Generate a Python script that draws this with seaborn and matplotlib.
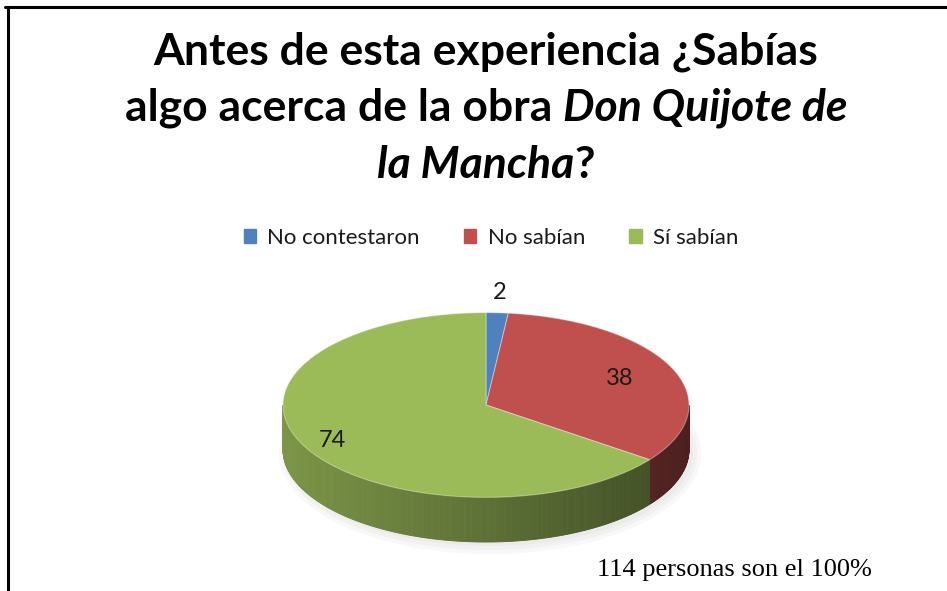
import numpy as np
import matplotlib.pyplot as plt
import matplotlib.patches as mpatches
from matplotlib.lines import Line2D
import seaborn as sns

# data
categories = ["No contestaron", "No sabían", "Sí sabían"]
values = [2, 38, 74]
label_radius = [1.22, 0.72, 0.85]
title_lines = [
    [("Antes de esta experiencia ¿Sabías", "normal")],
    [("algo acerca de la obra", "normal"), ("Don Quijote de", "italic")],
    [("la Mancha", "italic"), ("?", "normal")],
]
note = "114 personas son el 100%"

sns.set_theme(style="white")
plt.rcParams['font.family'] = ['Lato', 'DejaVu Sans']
palette = ["#4F81BD", "#C0504D", "#9BBB59"]

W, H = 947, 591
fig = plt.figure(figsize=(W / 100, H / 100), dpi=100)
fig.patch.set_facecolor("white")

# pie in pixel-like units: centre at (486, 405), radius 203 px
cx, cy, R = 486, 405, 203
ax = fig.add_axes([0, 0, 1, 1])
ax.set_xlim(-cx / R, (W - cx) / R)
ax.set_ylim((cy - H) / R, cy / R)
ax.axis("off")

k = 0.455      # tilt (vertical squash)
depth = 0.22   # side height

total = sum(values)
angles = []
start = 90.0
for v in values:
    end = start - v / total * 360
    angles.append((start, end))
    start = end

def rgb_scale(c, f):
    r, g, b = plt.matplotlib.colors.to_rgb(c)
    return (r * f, g * f, b * f)

# soft shadow below pie
for i, a in enumerate([0.05, 0.05, 0.05]):
    sh = mpatches.Ellipse((0.02, -depth - 0.02), 2.0 + 0.04 * i, 2 * k + 0.04 * i,
                          color="grey", alpha=a, lw=0)
    ax.add_patch(sh)

# side walls (front half only)
for (a0, a1), c in zip(angles, palette):
    lo, hi = max(min(a0, a1), -180), min(max(a0, a1), 0)
    if hi <= lo:
        continue
    ts = np.linspace(lo, hi, int((hi - lo) * 2) + 2)
    for t0, t1 in zip(ts[:-1], ts[1:]):
        tm = np.radians((t0 + t1) / 2)
        f = 0.6 - 0.2 * np.cos(tm)
        col = rgb_scale(c, f)
        r0, r1 = np.radians(t0), np.radians(t1)
        xs = [np.cos(r0), np.cos(r1), np.cos(r1), np.cos(r0)]
        ys = [k * np.sin(r0), k * np.sin(r1), k * np.sin(r1) - depth, k * np.sin(r0) - depth]
        ax.fill(xs, ys, color=col, lw=0.6, ec=col)

# top faces
for (a0, a1), c in zip(angles, palette):
    t = np.radians(np.linspace(a0, a1, 200))
    xs = np.concatenate([[0], np.cos(t)])
    ys = np.concatenate([[0], k * np.sin(t)])
    ax.fill(xs, ys, color=c, lw=0.8, ec=(1, 1, 1, 0.35))

# data labels
for (a0, a1), v, rl in zip(angles, values, label_radius):
    tm = np.radians((a0 + a1) / 2)
    ax.text(rl * np.cos(tm), k * rl * np.sin(tm), str(v), ha="center", va="center",
            fontsize=17, color="#1a1a1a")

# title with italic part
renderer = fig.canvas.get_renderer()
title_size = 32
title_base = [64, 121, 178]
def width_of(s, style):
    t = fig.text(0, 0, s, fontsize=title_size, fontweight="bold", style=style)
    w = t.get_window_extent(renderer).width
    t.remove()
    return w
gap = width_of("a a", "normal") - width_of("aa", "normal")
for line, yb in zip(title_lines, title_base):
    widths = [width_of(s, st) for s, st in line]
    total_w = sum(widths) + gap * (len(line) - 1)
    if line[-1][0] == "?":
        total_w -= gap
    x = 486 - total_w / 2
    for (s, st), w in zip(line, widths):
        if s == "?":
            x -= gap
        fig.text(x / W, 1 - yb / H, s, fontsize=title_size, fontweight="bold",
                 style=st, va="baseline", ha="left", color="black")
        x += w + gap

# legend
handles = [mpatches.Patch(color=c, label=l) for c, l in zip(palette, categories)]
fig.legend(handles=handles, loc="center", bbox_to_anchor=(491 / W, 1 - 238 / H), ncol=3,
           frameon=False, fontsize=16, handlelength=0.55, handleheight=0.55,
           handletextpad=0.5, columnspacing=2.0, labelcolor="#1a1a1a")

# footnote
fig.text(597 / W, 1 - 576 / H, note, family="Liberation Serif", fontsize=19,
         va="baseline", ha="left", color="black")

# frame (only top and left visible)
fig.add_artist(Line2D([5 / W, 1], [1 - 7 / H] * 2, color="black", lw=2.2,
                      transform=fig.transFigure))
fig.add_artist(Line2D([8 / W, 8 / W], [0, 1 - 7 / H], color="black", lw=2.2,
                      transform=fig.transFigure))

fig.savefig("out.png", dpi=100)
